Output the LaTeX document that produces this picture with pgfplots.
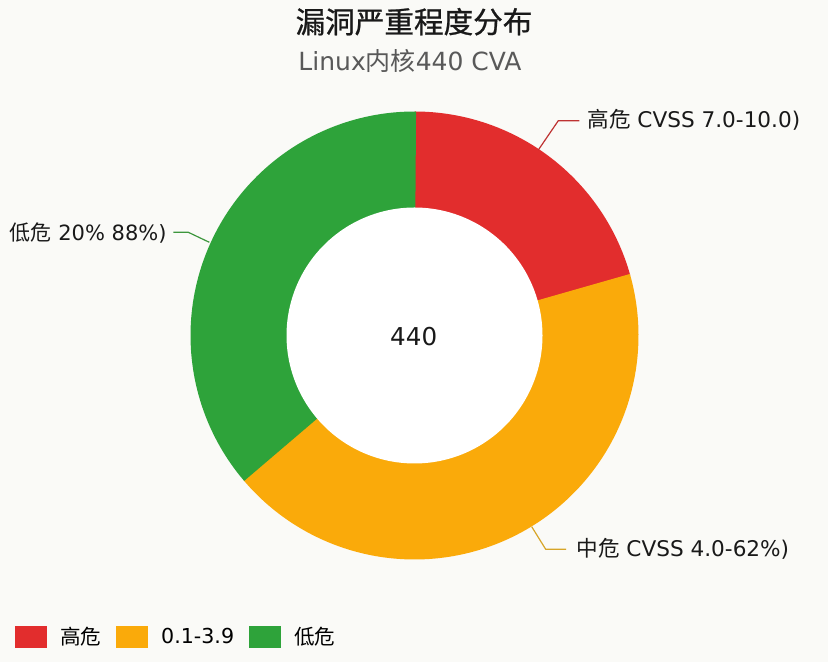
\documentclass[border=0pt]{standalone}
\usepackage{fontspec}
\usepackage{pgfplots}
\pgfplotsset{compat=1.18}
\setmainfont{DejaVu Sans}
\newfontfamily\cjk{Noto Sans CJK SC}
\newfontfamily\cjktitle[FakeBold=0.8]{Noto Sans CJK SC}
\definecolor{cHigh}{RGB}{226,45,45}
\definecolor{cMid}{RGB}{250,170,10}
\definecolor{cLow}{RGB}{46,163,58}
\definecolor{bg}{RGB}{250,250,247}
\definecolor{lHigh}{RGB}{190,50,50}
\definecolor{lMid}{RGB}{215,165,40}
\definecolor{lLow}{RGB}{60,150,60}
% values (count of CVEs)
\def\vHigh{91}\def\vMid{190}\def\vLow{159}
\pgfmathsetmacro\total{\vHigh+\vMid+\vLow}
\pgfmathsetmacro\aA{90}
\pgfmathsetmacro\aB{90-360*(\vHigh/\total)}
\pgfmathsetmacro\aC{\aB-360*(\vMid/\total)}
\pgfmathsetmacro\aD{\aC-360*(\vLow/\total)}
\pgfmathsetmacro\aBo{\aB+0.4}
\pgfmathsetmacro\aCo{\aC+0.4}
\pgfmathsetmacro\aDo{\aD-0.4}
\def\cx{414.5}\def\cy{326.5}\def\Ro{224}\def\Ri{128}
\begin{document}
\begin{tikzpicture}
\fill[bg] (0,0) rectangle (414pt,331pt);
\begin{axis}[x=0.5pt,y=0.5pt,xmin=0,xmax=828,ymin=0,ymax=662,
  hide axis, clip=false,
  legend style={at={(axis cs:15,24.5)}, anchor=west, draw=none, fill=none,
    inner sep=0pt, outer sep=0pt, legend columns=3,
    nodes={inner sep=0pt, anchor=west, font=\fontsize{10.3}{12}\selectfont},
    /tikz/every even column/.append style={column sep=7.5pt}},
  legend image code/.code={\fill[#1] (0pt,-5.5pt) rectangle (16pt,5.5pt); \path (22.5pt,0pt);},
]
\addplot[fill=cHigh, draw=none, domain=\aB:\aA, samples=80, variable=\t]
  ({\cx+\Ro*cos(t)},{\cy+\Ro*sin(t)}) -- (axis cs:\cx,\cy) -- cycle;
\addlegendentry{\cjk 高危}
\addplot[fill=cMid, draw=none, domain=\aC:\aBo, samples=120, variable=\t]
  ({\cx+\Ro*cos(t)},{\cy+\Ro*sin(t)}) -- (axis cs:\cx,\cy) -- cycle;
\addlegendentry{0.1-3.9}
\addplot[fill=cLow, draw=none, domain=\aDo:\aCo, samples=100, variable=\t]
  ({\cx+\Ro*cos(t)},{\cy+\Ro*sin(t)}) -- (axis cs:\cx,\cy) -- cycle;
\addlegendentry{\cjk 低危}
\addplot[fill=white, draw=none, domain=0:360, samples=181, variable=\t, forget plot]
  ({\cx+\Ri*cos(t)},{\cy+\Ri*sin(t)}) -- cycle;
% leader lines
\addplot[lHigh, line width=0.6pt, forget plot] coordinates {(538.3,512) (558.3,541.3) (579.3,541.3)};
\addplot[lLow, line width=0.6pt, forget plot] coordinates {(209.3,419.7) (188.3,429.7) (173.3,429.7)};
\addplot[lMid, line width=0.6pt, forget plot] coordinates {(531.7,135.3) (545.7,112.7) (566,112.7)};
% texts
\node[font=\fontsize{14.8}{17}\selectfont\cjktitle, text=black!90] at (axis cs:414,640.3) {漏洞严重程度分布};
\node[font=\fontsize{12.5}{15}\selectfont, text=black!65] at (axis cs:410,601) {Linux{\cjk 内核}440 CVA};
\node[font=\fontsize{12.3}{14}\selectfont, text=black!90] at (axis cs:413.7,325.7) {440};
\node[anchor=west, inner sep=0pt, font=\fontsize{10.8}{13}\selectfont, text=black!90] at (axis cs:587,542) {{\cjk 高危} CVSS 7.0-10.0)};
\node[anchor=east, inner sep=0pt, font=\fontsize{10.5}{13}\selectfont, text=black!90] at (axis cs:167,429) {{\cjk 低危} 20\% 88\%)};
\node[anchor=west, inner sep=0pt, font=\fontsize{10.8}{13}\selectfont, text=black!90] at (axis cs:576,113) {{\cjk 中危} CVSS 4.0-62\%)};
\end{axis}
\end{tikzpicture}
\end{document}
